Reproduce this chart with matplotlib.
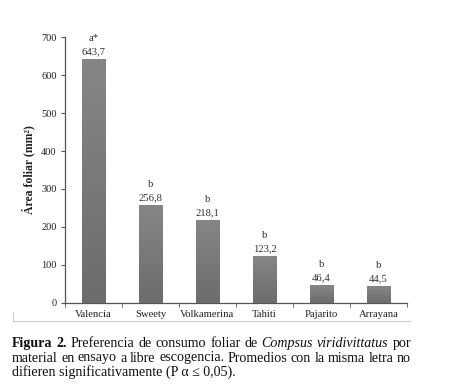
import numpy as np
import matplotlib
matplotlib.use("Agg")
import matplotlib.pyplot as plt
from matplotlib.lines import Line2D

categories = ["Valencia", "Sweety", "Volkamerina", "Tahiti", "Pajarito", "Arrayana"]
values = [643.7, 256.8, 218.1, 123.2, 46.4, 44.5]
letters = ["a*", "b", "b", "b", "b", "b"]
value_labels = ["643,7", "256,8", "218,1", "123,2", "46,4", "44,5"]
yticks = [0, 100, 200, 300, 400, 500, 600, 700]

plt.rcParams['font.family'] = ['Liberation Serif', 'DejaVu Serif']

fig = plt.figure(figsize=(4.5, 3.86), dpi=100)
ax = fig.add_axes([0.1444, 0.2158, 0.76, 0.6876])

x = np.arange(len(categories))
bars = ax.bar(x, values, width=0.42, color="#777777", edgecolor="none", zorder=2)

grad = np.linspace(0, 1, 256).reshape(-1, 1)
cmap = matplotlib.colors.LinearSegmentedColormap.from_list("g", ["#6c6c6c", "#868686"])
for b in bars:
    x0, w, h = b.get_x(), b.get_width(), b.get_height()
    im = ax.imshow(grad, extent=[x0, x0 + w, 0, h], origin="lower", aspect="auto",
                   cmap=cmap, zorder=3)
    im.set_clip_path(b)

for xi, v, let, lab in zip(x, values, letters, value_labels):
    ax.annotate(lab, (xi, v), xytext=(0, 2), textcoords="offset points",
                ha="center", va="bottom", fontsize=7.7, color="#333333")
    ax.annotate(let, (xi, v), xytext=(0, 11.5), textcoords="offset points",
                ha="center", va="bottom", fontsize=7.7, color="#333333")

ax.set_xlim(-0.5, len(categories) - 0.5)
ax.set_ylim(0, 700)
ax.set_yticks(yticks)
ax.set_yticklabels([str(t) for t in yticks], fontsize=7.5, color="#222222")
ax.set_xticks(x)
ax.set_xticklabels(categories, fontsize=7.7, color="#222222")
ax.tick_params(axis="x", length=0, pad=5)
ax.set_xticks(np.arange(-0.5, len(categories) + 0.5, 1), minor=True)
ax.tick_params(axis="x", which="minor", length=3, direction="out", color="#555555")
ax.tick_params(axis="y", length=3, direction="out", color="#555555", pad=3)

for s in ["top", "right"]:
    ax.spines[s].set_visible(False)
for s in ["left", "bottom"]:
    ax.spines[s].set_color("#555555")
    ax.spines[s].set_linewidth(0.9)

ax.set_ylabel("Área foliar (mm²)", fontsize=8.5, fontweight="bold", labelpad=4, color="#222222")

fig.add_artist(Line2D([13/450, 410/450], [1 - 321/386, 1 - 321/386],
                      color="#cccccc", lw=0.8, transform=fig.transFigure))
fig.add_artist(Line2D([13/450, 13/450], [1 - 313/386, 1 - 321/386],
                      color="#cccccc", lw=0.8, transform=fig.transFigure))

# caption with justified lines
fs = 10.1
x_left, x_right = 12.0, 411.0
fig.canvas.draw()
renderer = fig.canvas.get_renderer()

def place_line(words, ybase):
    arts = []
    for w, wt, st in words:
        t = fig.text(0, ybase / 386, w, fontsize=fs, fontweight=wt, style=st,
                     color="#111111", va="baseline")
        arts.append(t)
    widths = [a.get_window_extent(renderer).width for a in arts]
    total = sum(widths)
    n = len(arts)
    gap = (x_right - x_left - total) / (n - 1)
    cur = x_left
    for a, w in zip(arts, widths):
        a.set_x(cur / 450)
        cur += w + gap

line1 = [("Figura", "bold", "normal"), ("2.", "bold", "normal")] + \
        [(w, "normal", "normal") for w in "Preferencia de consumo foliar de".split()] + \
        [("Compsus", "normal", "italic"), ("viridivittatus", "normal", "italic"), ("por", "normal", "normal")]
line2 = [(w, "normal", "normal") for w in
         "material en ensayo a libre escogencia. Promedios con la misma letra no".split()]
line3 = "difieren significativamente (P α ≤ 0,05)."

place_line(line1, 386 - 347)
place_line(line2, 386 - 361.5)
fig.text(x_left / 450, (386 - 376) / 386, line3, fontsize=fs, color="#111111", va="baseline")

fig.savefig("out.png", dpi=100)
